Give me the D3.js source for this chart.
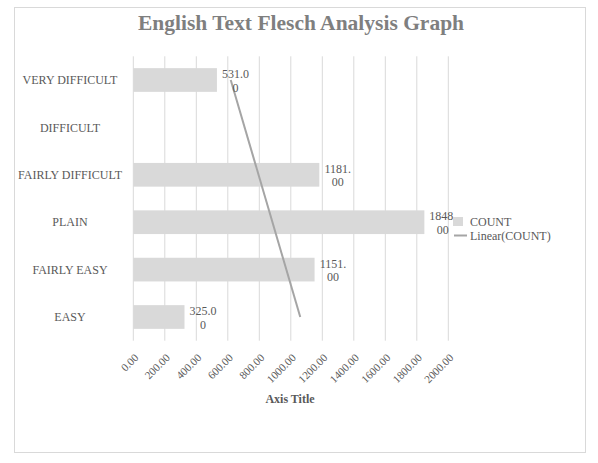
<!DOCTYPE html>
<html>
<head>
<meta charset="utf-8">
<script src="https://cdn.jsdelivr.net/npm/d3@7"></script>
<style>
  body { margin: 0; background: #fff; }
  text { font-family: "Liberation Serif", "Times New Roman", serif; }
</style>
</head>
<body>
<div id="chart"></div>
<script>
// chart data, top row first
const categories = ['VERY DIFFICULT', 'DIFFICULT', 'FAIRLY DIFFICULT', 'PLAIN', 'FAIRLY EASY', 'EASY'];
const counts = [531, 0, 1181, 1848, 1151, 325];
const xTicks = [0, 200, 400, 600, 800, 1000, 1200, 1400, 1600, 1800, 2000];
const chartTitle = 'English Text Flesch Analysis Graph';
const axisTitle = 'Axis Title';
const legendLabels = ['COUNT', 'Linear(COUNT)'];

const width = 598, height = 463;
const plot = {left: 133.3, right: 448.3, top: 56.3, bottom: 340.7};

const svg = d3.select('#chart').append('svg')
  .attr('width', width)
  .attr('height', height);

// outer frame
svg.append('rect')
  .attr('x', 14.5).attr('y', 7.5)
  .attr('width', 571).attr('height', 445)
  .attr('fill', '#fff')
  .attr('stroke', '#d9d9d9');

const x = d3.scaleLinear().domain([0, 2000]).range([plot.left, plot.right]);
const y = d3.scaleBand().domain(categories)
  .range([plot.top, plot.bottom])
  .paddingInner(0.5).paddingOuter(0.25);

// gridlines
svg.append('g')
  .selectAll('line')
  .data(xTicks)
  .enter()
  .append('line')
    .attr('x1', d => x(d)).attr('x2', d => x(d))
    .attr('y1', plot.top).attr('y2', plot.bottom)
    .attr('stroke', '#d9d9d9')
    .attr('stroke-width', 1);

// bars
svg.append('g')
  .selectAll('rect')
  .data(categories)
  .enter()
  .append('rect')
    .attr('x', x(0))
    .attr('y', d => y(d))
    .attr('width', (d, i) => x(counts[i]) - x(0))
    .attr('height', y.bandwidth())
    .attr('fill', '#d9d9d9');

// category labels
svg.append('g')
  .selectAll('text')
  .data(categories)
  .enter()
  .append('text')
    .attr('x', 70)
    .attr('y', d => y(d) + y.bandwidth() / 2)
    .attr('dy', '0.35em')
    .attr('text-anchor', 'middle')
    .attr('font-size', 12)
    .attr('fill', '#595959')
    .text(d => d);

// x tick labels, rotated
svg.append('g')
  .selectAll('text')
  .data(xTicks)
  .enter()
  .append('text')
    .attr('transform', d => `translate(${x(d) + 3}, ${plot.bottom + 15}) rotate(-45)`)
    .attr('text-anchor', 'end')
    .attr('dy', '0.35em')
    .attr('font-size', 11)
    .attr('fill', '#595959')
    .text(d => d3.format('.2f')(d));

// axis title
svg.append('text')
  .attr('x', 290).attr('y', 403)
  .attr('text-anchor', 'middle')
  .attr('font-size', 12)
  .attr('font-weight', 'bold')
  .attr('fill', '#595959')
  .text(axisTitle);

// linear trendline (Excel numbers categories from the bottom)
const pts = counts.map((v, i) => [categories.length - i, v]);
const mx = d3.mean(pts, p => p[0]), my = d3.mean(pts, p => p[1]);
const slope = d3.sum(pts, p => (p[0] - mx) * (p[1] - my)) / d3.sum(pts, p => (p[0] - mx) ** 2);
const trend = k => my + slope * (k - mx);
const catAt = k => categories[categories.length - k];
const trendPts = [1, categories.length].map(k => [x(trend(k)), y(catAt(k)) + y.bandwidth() / 2]);
svg.append('path')
  .attr('d', d3.line()(trendPts))
  .attr('stroke', '#a5a5a5')
  .attr('stroke-width', 2)
  .attr('fill', 'none');

// data labels, wrapped after 5 characters like the original
const labels = svg.append('g')
  .selectAll('text')
  .data(categories.filter((d, i) => counts[i] > 0))
  .enter()
  .append('text')
    .attr('text-anchor', 'middle')
    .attr('font-size', 12)
    .attr('fill', '#595959');
labels.each(function(d) {
  const v = counts[categories.indexOf(d)];
  const s = d3.format('.2f')(v);
  const cx = x(v) + 18.5;
  const cy = y(d) + y.bandwidth() / 2;
  const t = d3.select(this);
  t.append('tspan').attr('x', cx).attr('y', cy - 2).text(s.slice(0, 5));
  t.append('tspan').attr('x', cx).attr('y', cy + 11.5).text(s.slice(5));
});

// legend
const lg = svg.append('g').attr('transform', 'translate(453, 217)');
lg.append('rect')
  .attr('width', 10).attr('height', 9)
  .attr('fill', '#d9d9d9');
lg.append('text')
  .attr('x', 17).attr('y', 4.5).attr('dy', '0.35em')
  .attr('font-size', 12).attr('fill', '#595959')
  .text(legendLabels[0]);
lg.append('line')
  .attr('x1', 1).attr('x2', 14)
  .attr('y1', 18.5).attr('y2', 18.5)
  .attr('stroke', '#a5a5a5').attr('stroke-width', 2);
lg.append('text')
  .attr('x', 17).attr('y', 18.5).attr('dy', '0.35em')
  .attr('font-size', 12).attr('fill', '#595959')
  .text(legendLabels[1]);

// title
svg.append('text')
  .attr('x', 301).attr('y', 30)
  .attr('text-anchor', 'middle')
  .attr('font-size', 21.5)
  .attr('font-weight', 'bold')
  .attr('fill', '#7f7f7f')
  .text(chartTitle);
</script>
</body>
</html>
